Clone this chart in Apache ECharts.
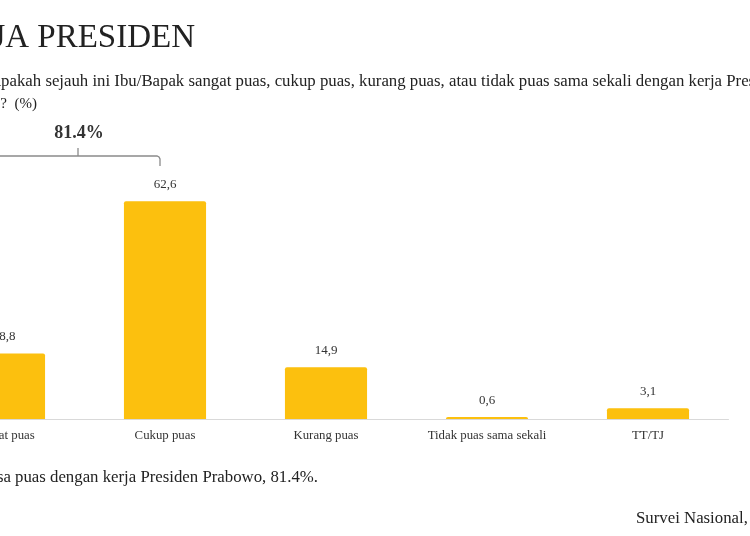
<!DOCTYPE html>
<html>
<head>
<meta charset="utf-8">
<script src="https://cdn.jsdelivr.net/npm/echarts@6/dist/echarts.min.js"></script>
<style>html,body{margin:0;padding:0;background:#fff;}#c{width:750px;height:536px;}</style>
</head>
<body>
<div id="c"></div>
<script>
var categories = ['Sangat puas', 'Cukup puas', 'Kurang puas', 'Tidak puas sama sekali', 'TT/TJ'];
var values = [18.8, 62.6, 14.9, 0.6, 3.1];
var labels = ['18,8', '62,6', '14,9', '0,6', '3,1'];

var chart = echarts.init(document.getElementById('c'));
var serif = '"Liberation Serif", "DejaVu Serif", serif';
var grey = '#8a8a8a';
chart.setOption({
  animation: false,
  backgroundColor: '#fff',
  grid: { left: -76.5, width: 805, top: 175.4, height: 243.6, containLabel: false, outerBoundsMode: 'none' },
  xAxis: {
    type: 'category', data: categories,
    axisLine: { lineStyle: { color: '#d9d9d9', width: 1 } },
    axisTick: { show: false },
    axisLabel: { color: '#333', fontFamily: serif, fontSize: 12.8, margin: 10 }
  },
  yAxis: { type: 'value', min: 0, max: 70, show: false, splitLine: { show: false } },
  series: [{
    type: 'bar', data: values, barWidth: '51%',
    itemStyle: { color: '#FCC00E', borderRadius: [2, 2, 0, 0] },
    label: {
      show: true, position: 'top', distance: 10, color: '#333', fontFamily: serif, fontSize: 13,
      formatter: function (p) { return labels[p.dataIndex]; }
    }
  }],
  graphic: [
    { type: 'text', style: { text: 'KINERJA PRESIDEN', x: 195, y: 38, align: 'right', verticalAlign: 'middle', font: '33px ' + serif, fill: '#222' } },
    { type: 'text', style: { text: 'Apakah sejauh ini Ibu/Bapak sangat puas, cukup puas, kurang puas, atau tidak puas sama sekali dengan kerja Presiden Prabowo Subianto?', x: -11, y: 82, align: 'left', verticalAlign: 'middle', font: '16.8px ' + serif, fill: '#222' } },
    { type: 'text', style: { text: 'Subianto?  (%)', x: 37, y: 104, align: 'right', verticalAlign: 'middle', font: '15px ' + serif, fill: '#222' } },
    { type: 'text', style: { text: '81.4%', x: 79, y: 133, align: 'center', verticalAlign: 'middle', font: 'bold 18px ' + serif, fill: '#333' } },
    { type: 'polyline', shape: { points: [[-10, 156], [157, 156], [159, 157], [160, 159], [160, 166]] }, style: { stroke: grey, lineWidth: 1.3, fill: null } },
    { type: 'polyline', shape: { points: [[78, 156], [78, 148]] }, style: { stroke: grey, lineWidth: 1.3, fill: null } },
    { type: 'text', style: { text: 'Mayoritas warga merasa puas dengan kerja Presiden Prabowo, 81.4%.', x: 318, y: 478, align: 'right', verticalAlign: 'middle', font: '16.8px ' + serif, fill: '#222' } },
    { type: 'text', style: { text: 'Survei Nasional, Januari 2025', x: 636, y: 519, align: 'left', verticalAlign: 'middle', font: '16.8px ' + serif, fill: '#222' } }
  ]
});
</script>
</body>
</html>
